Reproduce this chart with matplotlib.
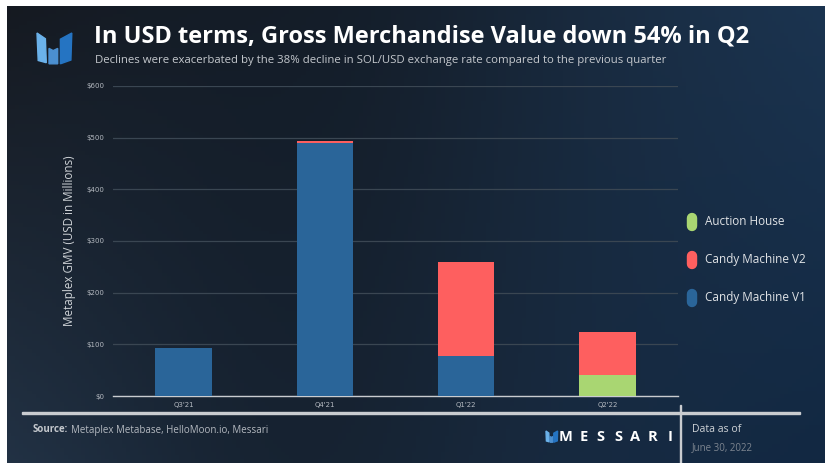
import numpy as np
import matplotlib.pyplot as plt
from matplotlib.patches import Polygon, Rectangle
from matplotlib.lines import Line2D

# data (USD millions)
quarters = ["Q3'21", "Q4'21", "Q1'22", "Q2'22"]
candy_v1 = [93, 490, 77, 0]
auction_house = [0, 0, 0, 41]
candy_v2 = [0, 3, 182, 83]
y_ticks = [0, 100, 200, 300, 400, 500, 600]

c_v1 = '#2a6599'
c_v2 = '#fe5f5f'
c_ah = '#a9d672'
txt_grey = '#b4b9c0'

W, H = 825, 463
fig = plt.figure(figsize=(W / 100, H / 100), dpi=100)
fig.patch.set_facecolor('white')

# background gradient
bg = fig.add_axes([7 / W, 0, 1 - 8 / W, 1 - 6 / H])
bg.set_axis_off()
tl = np.array([22, 26, 33]) / 255
tr = np.array([27, 52, 80]) / 255
bl = np.array([36, 53, 73]) / 255
br = np.array([18, 40, 66]) / 255
gx = np.linspace(0, 1, 200)[None, :, None]
gy = np.linspace(0, 1, 120)[:, None, None]
grad = (1 - gy) * ((1 - gx) * tl + gx * tr) + gy * ((1 - gx) * bl + gx * br)
dark = np.array([17, 24, 33]) / 255
w = np.exp(-((gx - 0.35) ** 2) / 0.08) * 0.55
grad = grad * (1 - w) + dark * w
bg.imshow(grad, aspect='auto', extent=[0, 1, 1, 0])
bg.set_xlim(0, 1)
bg.set_ylim(1, 0)

# chart
ax = fig.add_axes([113 / W, 67 / H, 565 / W, 310 / H])
ax.set_facecolor('none')
x = np.arange(len(quarters))
bw = 0.4
ax.bar(x, candy_v1, bw, color=c_v1, zorder=3)
ax.bar(x, auction_house, bw, bottom=candy_v1, color=c_ah, zorder=3)
base2 = [a + b for a, b in zip(candy_v1, auction_house)]
ax.bar(x, candy_v2, bw, bottom=base2, color=c_v2, zorder=3)
ax.set_xlim(-0.5, 3.5)
ax.set_ylim(0, 600)
ax.set_yticks(y_ticks)
ax.set_yticklabels(['$%d' % v for v in y_ticks])
ax.set_xticks(x)
ax.set_xticklabels(quarters)
ax.tick_params(length=0, labelsize=5, labelcolor=txt_grey, pad=4)
ax.tick_params(axis='y', pad=6)
ax.grid(axis='y', color='#3a4652', linewidth=0.9, zorder=0)
for s in ['top', 'right', 'left']:
    ax.spines[s].set_visible(False)
ax.spines['bottom'].set_color('#c9ccd0')
ax.spines['bottom'].set_linewidth(1.0)
ax.set_ylabel('Metaplex GMV (USD in Millions)', color='#d0d4d8', fontsize=8.4,
              family='Open Sans', labelpad=8)

# title
fig.text(94 / W, 1 - 36 / H, 'In USD terms, Gross Merchandise Value down 54% in Q2',
         color='white', fontsize=17, fontweight='bold', family='Open Sans', va='center')
fig.text(95 / W, 1 - 60 / H,
         'Declines were exacerbated by the 38% decline in SOL/USD exchange rate compared to the previous quarter',
         color='#c4c8cd', fontsize=8.2, family='Open Sans', va='center')


def logo(x0, y0, sx, sy):
    # three slanted bars, pixel coords from top-left
    shapes = [
        ([(0, 0), (2.8, 2.6), (3.1, 13.5), (0.4, 12.5)], '#6bb2ea'),
        ([(4.0, 7.0), (5.4, 8.0), (6.9, 7.0), (6.9, 14), (4.0, 14)], '#4b8fd0'),
        ([(7.8, 2.8), (11.6, 0), (11.3, 12.3), (7.8, 14)], '#2574c2'),
    ]
    for pts, col in shapes:
        p = [((x0 + px * sx) / W, 1 - (y0 + py * sy) / H) for px, py in pts]
        fig.add_artist(Polygon(p, closed=True, color=col, transform=fig.transFigure))


logo(37, 33, 3.0, 2.2)
logo(546, 431, 1.0, 0.8)

# legend
legend_items = [('Auction House', c_ah, 222), ('Candy Machine V2', c_v2, 260), ('Candy Machine V1', c_v1, 298)]
for label, col, yy in legend_items:
    fig.add_artist(Line2D([692 / W, 692 / W], [1 - (yy - 4) / H, 1 - (yy + 4) / H],
                          color=col, linewidth=7.5, solid_capstyle='round',
                          transform=fig.transFigure))
    fig.text(705 / W, 1 - yy / H, label, color='#e0e3e6', fontsize=8.5,
             family='Open Sans', va='center')

# footer
fig.add_artist(Rectangle((22 / W, 1 - 414 / H), 778 / W, 2 / H, color='#c9ccd0',
                         transform=fig.transFigure))
fig.add_artist(Rectangle((680 / W, 0), 1.2 / W, 1 - 405 / H, color='#c9ccd0',
                         transform=fig.transFigure))
fig.text(33 / W, 1 - 430 / H, 'Source:', color='#c4c8cd', fontsize=7, fontweight='bold',
         family='Open Sans', va='center')
fig.text(71 / W, 1 - 430 / H, 'Metaplex Metabase, HelloMoon.io, Messari', color='#b4b9c0',
         fontsize=7, family='Open Sans', va='center')
for i, ch in enumerate('MESSARI'):
    fig.text((566 + i * 17.3) / W, 1 - 437 / H, ch, color='white', fontsize=10.5,
             fontweight='bold', family='Open Sans', va='center', ha='center')
fig.text(692 / W, 1 - 429 / H, 'Data as of', color='#d0d4d8', fontsize=7.5,
         family='Open Sans', va='center')
fig.text(692 / W, 1 - 448 / H, 'June 30, 2022', color='#7d8590', fontsize=7,
         family='Open Sans', va='center')

fig.savefig('out.png', dpi=100, facecolor=fig.get_facecolor())
